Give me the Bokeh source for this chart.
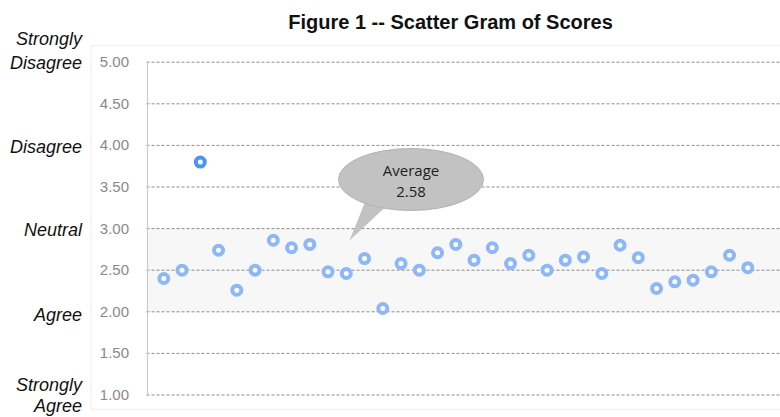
from bokeh.plotting import figure
from bokeh.models import BoxAnnotation, Range1d, ColumnDataSource
from bokeh.core.properties import value
from bokeh.embed import file_html
from bokeh.resources import INLINE

# ---- data ----
respondent = list(range(1, 34))
scores = [2.40, 2.50, 3.80, 2.74, 2.26, 2.50, 2.86, 2.77, 2.81, 2.48, 2.46,
          2.64, 2.04, 2.58, 2.50, 2.71, 2.81, 2.62, 2.77, 2.58, 2.68, 2.50,
          2.62, 2.66, 2.46, 2.80, 2.65, 2.28, 2.36, 2.38, 2.48, 2.68, 2.53]
tick_values = [1.0, 1.5, 2.0, 2.5, 3.0, 3.5, 4.0, 4.5, 5.0]
tick_labels = ["1.00", "1.50", "2.00", "2.50", "3.00", "3.50", "4.00", "4.50", "5.00"]
scale_texts = ["Strongly\nDisagree", "Disagree", "Neutral", "Agree", "Strongly\nAgree"]
title_text = "Figure 1 -- Scatter Gram of Scores"
average_text = "Average\n2.58"

# ---- layout (reference pixel geometry) ----
W, H = 780, 417
PX1, STEP = 163.3, 18.25          # pixel of first respondent, pixel step
PY5, PY1 = 61.7, 394.5            # pixel of score 5 and score 1
UNIT = (PY1 - PY5) / 4.0


def sx(px):
    return 1 + (px - PX1) / STEP


def sy(py):
    return 5 - (py - PY5) / UNIT


p = figure(width=W, height=H, output_backend="svg", toolbar_location=None,
           title=None, x_range=Range1d(sx(0), sx(W)), y_range=Range1d(sy(H), sy(0)),
           min_border=0)
p.outline_line_color = None
p.axis.visible = False
p.grid.visible = False

AX_PX = 147
x_axis = sx(AX_PX)
x_right = sx(W + 20)

# outer chart box
p.add_layout(BoxAnnotation(left=sx(90.5), right=x_right, top=sy(45), bottom=sy(409),
                           fill_color=None, fill_alpha=0, line_color="#d6d6d6",
                           line_width=1.5, level="underlay"))
# neutral band
p.add_layout(BoxAnnotation(left=x_axis, right=x_right, bottom=2.0, top=3.0,
                           fill_color="#f7f7f7", fill_alpha=1.0, line_color=None,
                           level="underlay"))

# gridlines
n = len(tick_values)
p.segment(x0=[sx(AX_PX - 1)] * n, x1=[x_right] * n, y0=tick_values, y1=tick_values,
          line_color="#8c8c8c", line_dash="3 2", line_width=1)
# axis line
p.segment(x0=[x_axis], x1=[x_axis], y0=[min(tick_values)], y1=[max(tick_values)],
          line_color="#c8c8c8", line_width=1)
# tick labels
p.text(x=[sx(128.5)] * n, y=tick_values, text=tick_labels, text_align="right",
       text_baseline="middle", text_font=value("Liberation Sans"),
       text_font_size="15px", text_color="#8a8a8a")

# points
hi = max(scores)
colors = ["#4f93ee" if s == hi else "#8db7f5" for s in scores]
src = ColumnDataSource(dict(x=respondent, y=scores, c=colors))
p.scatter("x", "y", source=src, size=9, fill_color="white", line_color="c",
          line_width=4)

# callout
cx, cy = sx(410.5), sy(179)
p.patch([sx(349), sx(366), sx(394)], [sy(240), sy(198), sy(198)],
        fill_color="#c2c2c2", line_color=None)
p.ellipse(x=[cx], y=[cy], width=145, height=62, width_units="screen",
          height_units="screen", fill_color="#c2c2c2", line_color="#b3b3b3",
          line_width=1)
avg_lines = average_text.split("\n")
p.text(x=[cx] * len(avg_lines), y=[sy(169), sy(191)], text=avg_lines,
       text_align="center", text_baseline="middle", text_font=value("Open Sans"),
       text_font_size="15px", text_color="#1e1e1e")

# title
p.text(x=[sx(450)], y=[sy(21)], text=[title_text], text_align="center",
       text_baseline="middle", text_font=value("Liberation Sans"),
       text_font_style="bold", text_font_size="20px", text_color="#111111")

# scale labels (line centres in reference pixels)
line_py = [[38.5, 62], [146.5], [229.5], [314], [384, 405]]
lx, ly, lt = [], [], []
for t, pys in zip(scale_texts, line_py):
    for line, py in zip(t.split("\n"), pys):
        lx.append(sx(81.5))
        ly.append(sy(py))
        lt.append(line)
p.text(x=lx, y=ly, text=lt, text_align="right", text_baseline="middle",
       text_font=value("Liberation Sans"), text_font_style="italic",
       text_font_size="18px", text_color="#111111")

open("out.html", "w").write(file_html(p, INLINE))
